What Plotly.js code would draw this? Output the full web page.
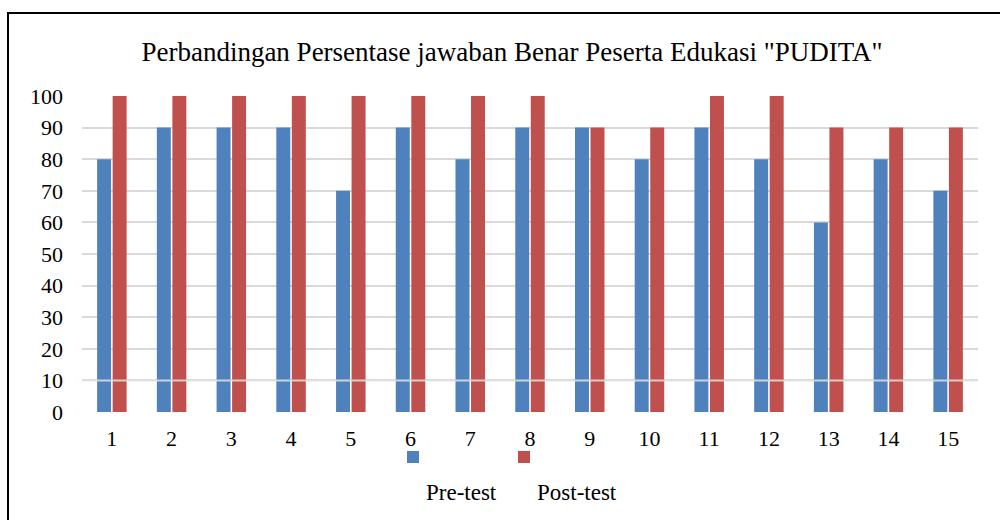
<!DOCTYPE html>
<html>
<head>
<meta charset="utf-8">
<script src="https://cdn.plot.ly/plotly-3.0.1.min.js"></script>
<style>html,body{margin:0;padding:0;background:#fff;}#chart{width:1000px;height:520px;}</style>
</head>
<body>
<div id="chart"></div>
<script>
const categories = ['1','2','3','4','5','6','7','8','9','10','11','12','13','14','15'];
const preTest  = [80, 90, 90, 90, 70, 90, 80, 90, 90, 80, 90, 80, 60, 80, 70];
const postTest = [100,100,100,100,100,100,100,100, 90, 90,100,100, 90, 90, 90];
const seriesNames = ['Pre-test', 'Post-test'];
const yTicks = [0,10,20,30,40,50,60,70,80,90,100];
const titleText = 'Perbandingan Persentase jawaban Benar Peserta Edukasi "PUDITA"';

const FONT = 'Liberation Serif, Times New Roman, serif';
const BLUE = '#4F81BD', RED = '#C0504D';

const traces = [
  {type:'bar', name:seriesNames[0], x:categories, y:preTest, marker:{color:BLUE}, showlegend:false, hoverinfo:'x+y'},
  {type:'bar', name:seriesNames[1], x:categories, y:postTest, marker:{color:RED}, showlegend:false, hoverinfo:'x+y'}
];

const L = 82, R = 22, T = 96, B = 108, W = 1000 - L - R, H = 520 - T - B;
const px = v => (v - L) / W;
const py = v => (520 - B - v) / H;

const layout = {
  width:1000, height:520,
  margin:{l:L, r:R, t:T, b:B, pad:0},
  paper_bgcolor:'#ffffff', plot_bgcolor:'#ffffff',
  font:{family:FONT, color:'#000', size:20},
  title:{text:titleText, font:{family:FONT, size:27, color:'#000'}, x:0.512, xanchor:'center', y:1 - 52/520, yanchor:'middle'},
  barmode:'group', bargap:0.48, bargroupgap:0.1,
  xaxis:{type:'category', showgrid:false, zeroline:false, showline:false, ticks:'', tickfont:{family:FONT, size:22}, ticklabelstandoff:11, fixedrange:true},
  yaxis:{range:[0,100], tickvals:yTicks, showgrid:true, gridcolor:'#d9d9d9', gridwidth:2, zeroline:false, showline:false, ticks:'', tickfont:{family:FONT, size:22}, ticklabelstandoff:18, fixedrange:true},
  shapes:[
    {type:'rect', xref:'paper', yref:'paper', x0:px(8), x1:px(1010), y0:py(540), y1:py(13), line:{color:'#000', width:2}, fillcolor:'rgba(0,0,0,0)', layer:'above'},
    {type:'line', xref:'paper', yref:'y', x0:0, x1:1, y0:10, y1:10, line:{color:'rgba(225,225,225,0.85)', width:2}, layer:'above'},
    {type:'rect', xref:'paper', yref:'paper', x0:px(407), x1:px(419), y0:py(463), y1:py(451), fillcolor:BLUE, line:{width:0}},
    {type:'rect', xref:'paper', yref:'paper', x0:px(518), x1:px(530), y0:py(463), y1:py(451), fillcolor:RED, line:{width:0}}
  ],
  annotations:[
    {xref:'paper', yref:'paper', x:px(424), y:py(492), xanchor:'left', yanchor:'middle', text:seriesNames[0], showarrow:false, font:{family:FONT, size:23, color:'#000'}},
    {xref:'paper', yref:'paper', x:px(535), y:py(492), xanchor:'left', yanchor:'middle', text:seriesNames[1], showarrow:false, font:{family:FONT, size:23, color:'#000'}}
  ]
};

Plotly.newPlot('chart', traces, layout, {displayModeBar:false, staticPlot:true});
</script>
</body>
</html>
